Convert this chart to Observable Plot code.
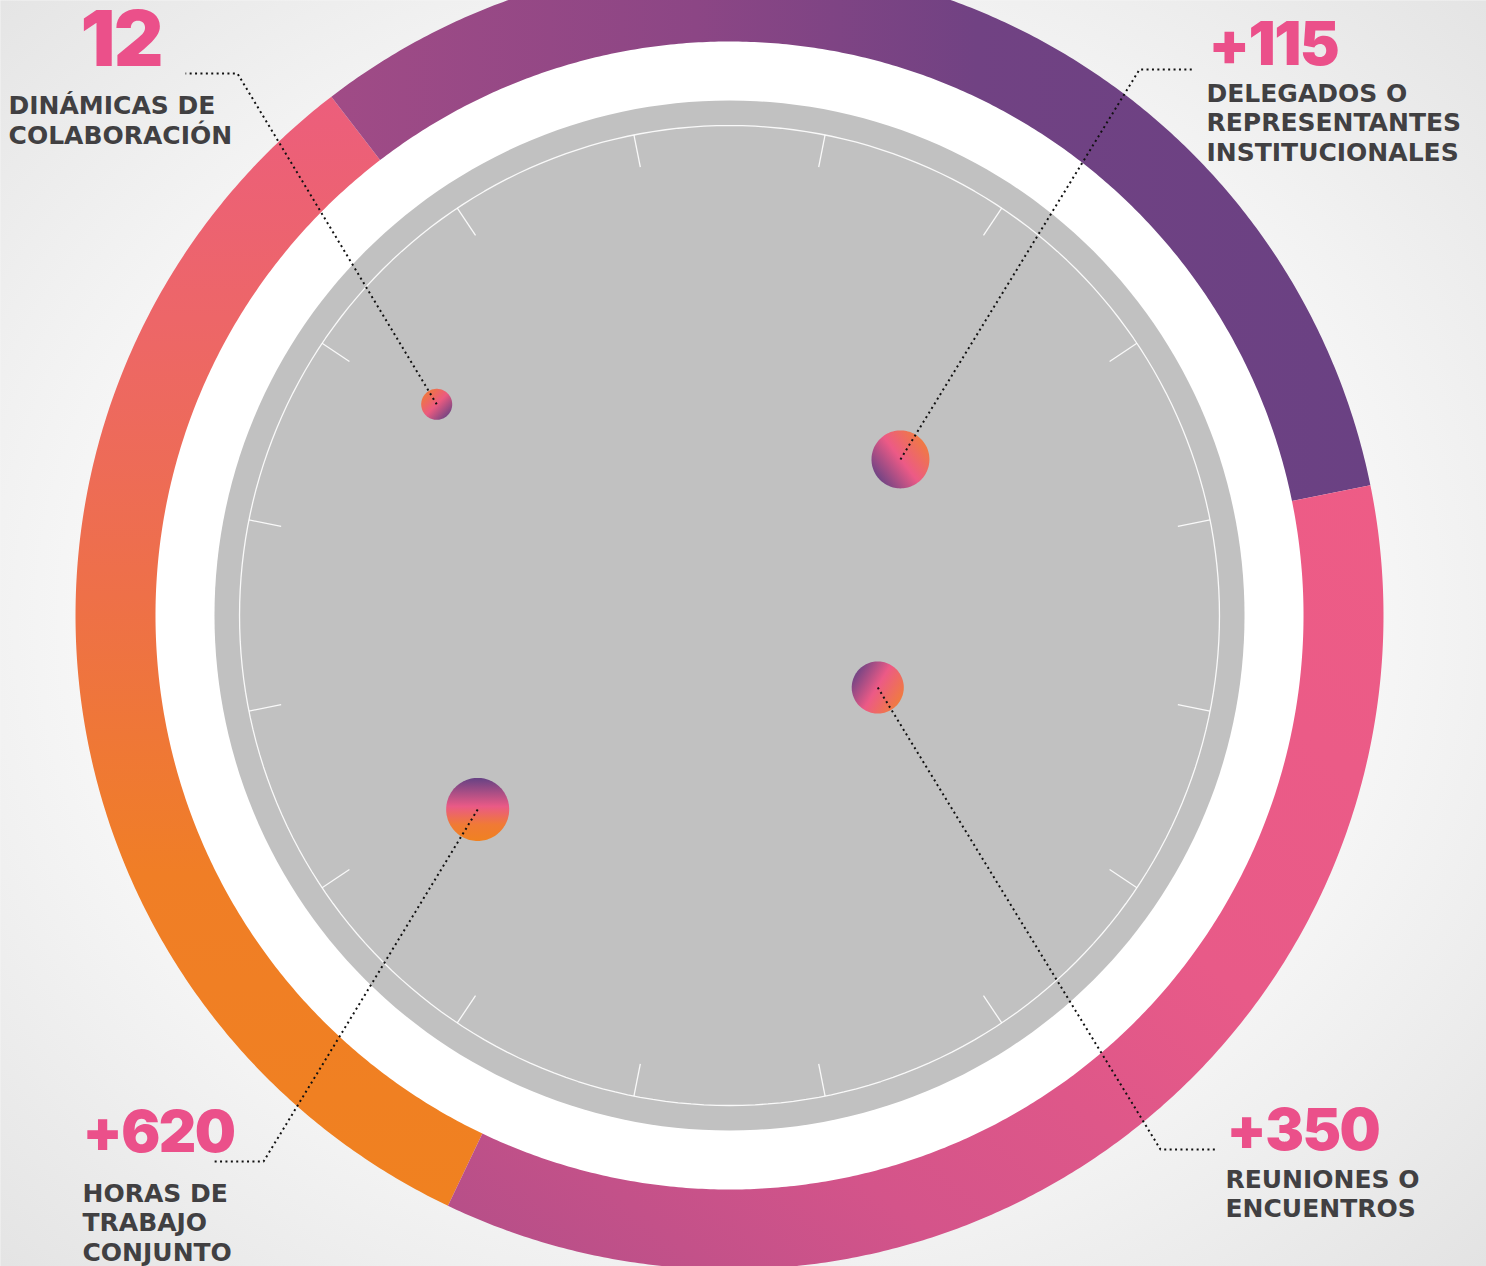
<!DOCTYPE html>
<html>
<head>
<meta charset="utf-8">
<script src="https://cdn.jsdelivr.net/npm/d3@7"></script>
<script src="https://cdn.jsdelivr.net/npm/@observablehq/plot@0.6"></script>
<style>
  html, body { margin: 0; padding: 0; overflow: hidden; background: #f4f4f4; }
  #chart svg { display: block; }
</style>
</head>
<body>
<div id="chart"></div>
<script>
// ---------------- DATA ----------------
const metricValues = ["12", "+115", "+350", "+620"];
const metricLabels = [
  "DINÁMICAS DE\nCOLABORACIÓN",
  "DELEGADOS O\nREPRESENTANTES\nINSTITUCIONALES",
  "REUNIONES O\nENCUENTROS",
  "HORAS DE\nTRABAJO\nCONJUNTO"
];
// bubble placement inside the dial: angle (deg, counter-clockwise from east) and distance (share of ring radius)
const bubbleAngle = [144.2, 42.4, -25.9, 217.6];
const bubbleDistance = [0.552, 0.354, 0.252, 0.486];
const bubbleRadius = [0.0237, 0.0443, 0.0398, 0.0482];

// outer ring segments (deg, clockwise from 12 o'clock)
const segmentNames = ["orange", "purple", "pink"];
const segmentFrom = [205.5, 322.5, 78.5];
const segmentTo = [322.5, 438.5, 205.5];

// dial ticks (deg, clockwise from 12 o'clock)
const tickAngles = [11.25, 33.75, 56.25, 78.75, 101.25, 123.75, 146.25, 168.75,
                    191.25, 213.75, 236.25, 258.75, 281.25, 303.75, 326.25, 348.75];

// ---------------- LAYOUT (units: outer ring radius) ----------------
const W = 1486, H = 1266;
const xDomain = [-1.1147, 1.1575];
const yDomain = [-0.9954, 0.9404];
const R = { ringOuter: 1, ringInner: 0.8777, white: 0.8800, gray: 0.7875, line: 0.7492, tickIn: 0.6990 };

// leader lines: elbow and end per metric
const leaderElbow = [[-0.7523, 0.8287], [0.6269, 0.8349], [0.6590, -0.8165], [-0.7125, -0.8349]];
const leaderEnd = [[-0.8318, 0.8287], [0.7110, 0.8349], [0.7431, -0.8165], [-0.7905, -0.8349]];
// text anchors (left, cap-top)
const valuePos = [[-0.9924, 0.9240], [0.7324, 0.9067], [0.7599, -0.7540], [-0.9893, -0.7580]];
const valueSize = [77, 60, 58, 58];
const labelPos = [[-1.1024, 0.7985], [0.7294, 0.8175], [0.7584, -0.8430], [-0.9893, -0.8640]];

const pink = "#eb508a", textGray = "#414042";

// ---------------- helpers ----------------
const deg = Math.PI / 180;
const polarCW = (r, a) => [r * Math.sin(a * deg), r * Math.cos(a * deg)];
function band(r0, r1, a0, a1) {
  const n = Math.ceil(Math.abs(a1 - a0) / 0.4), pts = [];
  for (let i = 0; i <= n; i++) pts.push(polarCW(r1, a0 + (a1 - a0) * i / n));
  for (let i = n; i >= 0; i--) pts.push(polarCW(r0, a0 + (a1 - a0) * i / n));
  return pts;
}
function disk(cx, cy, r, n = 240) {
  return d3.range(n).map(i => [cx + r * Math.cos(2 * Math.PI * i / n), cy + r * Math.sin(2 * Math.PI * i / n)]);
}

const bubbles = bubbleAngle.map((a, i) => ({
  i, x: bubbleDistance[i] * Math.cos(a * deg), y: bubbleDistance[i] * Math.sin(a * deg), r: bubbleRadius[i]
}));

// ---------------- gradient definitions ----------------
function defsMark() {
  const ns = "http://www.w3.org/2000/svg";
  const defs = document.createElementNS(ns, "defs");
  function grad(type, id, attrs, stops) {
    const g = document.createElementNS(ns, type);
    g.setAttribute("id", id);
    for (const [k, v] of Object.entries(attrs)) g.setAttribute(k, v);
    for (const [o, c] of stops) {
      const s = document.createElementNS(ns, "stop");
      s.setAttribute("offset", o);
      s.setAttribute("stop-color", c);
      g.appendChild(s);
    }
    defs.appendChild(g);
  }
  grad("radialGradient", "bg", {cx: 0.49, cy: 0.49, r: 0.72}, [[0, "#ffffff"], [0.5, "#fbfbfb"], [1, "#e3e3e3"]]);
  grad("linearGradient", "seg-orange", {x1: 0, y1: 1, x2: 0, y2: 0},
    [[0, "#f08120"], [0.3, "#f07e26"], [0.55, "#ee7048"], [0.8, "#ed6668"], [1, "#ec5e7c"]]);
  grad("linearGradient", "seg-purple", {x1: 0, y1: 0, x2: 1, y2: 0},
    [[0, "#a04b86"], [0.35, "#8c4685"], [0.62, "#714283"], [1, "#6a4183"]]);
  grad("linearGradient", "seg-pink", {x1: 1, y1: 0, x2: 0, y2: 1},
    [[0, "#ee5c86"], [0.4, "#e85a88"], [0.72, "#d4548a"], [1, "#b24e88"]]);
  const bub = [
    {x1: 0.1, y1: 0.1, x2: 0.9, y2: 0.9, stops: [[0, "#f07a38"], [0.5, "#eb5a80"], [1, "#6a4383"]]},
    {x1: 0.1, y1: 0.85, x2: 0.95, y2: 0.2, stops: [[0, "#6b4384"], [0.5, "#ec5a86"], [1, "#f07c3e"]]},
    {x1: 0.05, y1: 0.2, x2: 0.95, y2: 0.75, stops: [[0, "#6b4384"], [0.5, "#ec5a86"], [1, "#f07c3e"]]},
    {x1: 0.5, y1: 0.02, x2: 0.5, y2: 0.98, stops: [[0, "#6b4384"], [0.45, "#ea5a86"], [0.75, "#f07a35"], [1, "#f08122"]]}
  ];
  bub.forEach((b, i) => grad("linearGradient", "bub" + i, {x1: b.x1, y1: b.y1, x2: b.x2, y2: b.y2}, b.stops));
  return defs;
}

// ---------------- marks ----------------
const marks = [defsMark, Plot.frame({fill: "url(#bg)", stroke: "none"})];

// white disk, gray dial
marks.push(Plot.line(disk(0, 0, R.white), {curve: "linear-closed", fill: "#ffffff", stroke: "none"}));
marks.push(Plot.line(disk(0, 0, R.gray), {curve: "linear-closed", fill: "#c1c1c1", stroke: "none"}));
marks.push(Plot.line(disk(0, 0, R.line), {curve: "linear-closed", fill: "none", stroke: "#ffffff", strokeWidth: 1.3, strokeOpacity: 0.9}));

// ticks
marks.push(Plot.link(tickAngles, {
  x1: a => polarCW(R.tickIn, a)[0], y1: a => polarCW(R.tickIn, a)[1],
  x2: a => polarCW(R.line, a)[0], y2: a => polarCW(R.line, a)[1],
  stroke: "#ffffff", strokeWidth: 1.3, strokeOpacity: 0.9
}));

// ring segments
segmentNames.forEach((name, i) => {
  marks.push(Plot.line(band(R.ringInner, R.ringOuter, segmentFrom[i], segmentTo[i]),
    {curve: "linear-closed", fill: `url(#seg-${name})`, stroke: "none"}));
});

// bubbles
bubbles.forEach(b => {
  marks.push(Plot.line(disk(b.x, b.y, b.r, 120), {curve: "linear-closed", fill: `url(#bub${b.i})`, stroke: "none"}));
});

// leader lines
bubbles.forEach((b, i) => {
  marks.push(Plot.line([[b.x, b.y], leaderElbow[i], leaderEnd[i]], {
    stroke: "#111111", strokeWidth: 2, strokeDasharray: "2,3.4", strokeLinecap: "butt"
  }));
});

// values and labels
metricValues.forEach((v, i) => {
  marks.push(Plot.text([v], {
    x: () => valuePos[i][0], y: () => valuePos[i][1], text: d => d,
    textAnchor: "start", lineAnchor: "top", fontSize: valueSize[i],
    fontFamily: "Inter, 'DejaVu Sans', sans-serif", fontWeight: 900, fill: pink
  }));
  marks.push(Plot.text([metricLabels[i]], {
    x: () => labelPos[i][0], y: () => labelPos[i][1], text: d => d,
    textAnchor: "start", lineAnchor: "top", fontSize: 25, lineHeight: 1.18,
    fontFamily: "'DejaVu Sans', sans-serif", fontWeight: 700, fill: textGray
  }));
});

const chart = Plot.plot({
  width: W, height: H, margin: 0,
  x: {domain: xDomain, axis: null},
  y: {domain: yDomain, axis: null},
  style: {background: "transparent", overflow: "hidden"},
  marks
});
// tighten the big figures slightly (Montserrat-like proportions)
d3.select(chart).selectAll('g[font-weight="900"]').style("letter-spacing", "-1.5px");
document.getElementById("chart").appendChild(chart);
</script>
</body>
</html>
